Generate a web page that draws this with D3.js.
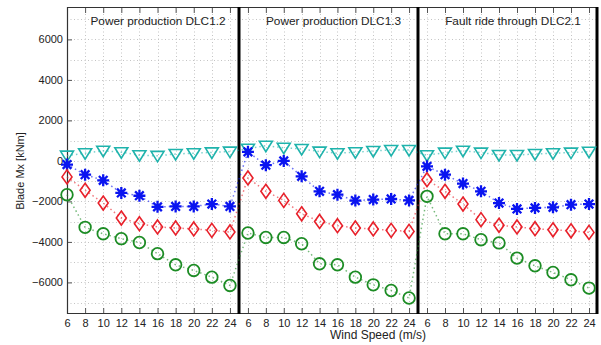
<!DOCTYPE html>
<html>
<head>
<meta charset="utf-8">
<script src="https://cdn.jsdelivr.net/npm/d3@7"></script>
<style>
  body { margin: 0; background: #fff; }
  text { font-family: "Liberation Sans", Arial, Helvetica, sans-serif; fill: #222; }
</style>
</head>
<body>
<div id="chart"></div>
<script>
// wind speeds on the x axis of every panel
const windSpeeds = [6, 8, 10, 12, 14, 16, 18, 20, 22, 24];
const panelTitles = ["Power production DLC1.2", "Power production DLC1.3", "Fault ride through DLC2.1"];
const yTickValues = [-6000, -4000, -2000, 0, 2000, 4000, 6000];

// DLC1.2
const triDLC12 = [260, 380, 500, 430, 280, 250, 340, 380, 420, 460];
const starDLC12 = [-180, -680, -960, -1580, -1720, -2270, -2250, -2250, -2130, -2250];
const diamDLC12 = [-790, -1450, -2080, -2820, -3100, -3260, -3310, -3360, -3430, -3510];
const circDLC12 = [-1670, -3280, -3600, -3840, -4030, -4580, -5130, -5410, -5740, -6150];
// DLC1.3
const triDLC13 = [600, 750, 650, 590, 460, 380, 430, 490, 540, 540];
const starDLC13 = [450, -210, 0, -760, -1500, -1670, -1960, -1910, -1880, -1950];
const diamDLC13 = [-840, -1500, -1950, -2610, -2990, -3200, -3310, -3360, -3430, -3480];
const circDLC13 = [-3560, -3780, -3780, -4090, -5080, -5130, -5740, -6120, -6400, -6770];
// DLC2.1
const triDLC21 = [280, 410, 500, 410, 290, 290, 340, 380, 410, 450];
const starDLC21 = [-270, -680, -1120, -1500, -2080, -2370, -2320, -2290, -2160, -2130];
const diamDLC21 = [-930, -1500, -2130, -2900, -3180, -3260, -3350, -3400, -3450, -3530];
const circDLC21 = [-1750, -3600, -3600, -3890, -4050, -4800, -5180, -5510, -5870, -6280];

const series = [
  { name: "tri", color: "#1fb3ac", data: [triDLC12, triDLC13, triDLC21] },
  { name: "star", color: "#0a14f0", data: [starDLC12, starDLC13, starDLC21] },
  { name: "diam", color: "#e8202a", data: [diamDLC12, diamDLC13, diamDLC21] },
  { name: "circ", color: "#1c8c24", data: [circDLC12, circDLC13, circDLC21] }
];

const W = 601, H = 345;
const yTop = 7, yBottom = 314;
// pixel extent and x domain of each panel
const panels = [
  { x0: 67, x1: 239, lo: 6 },
  { x0: 239, x1: 418, lo: 5 },
  { x0: 418, x1: 598, lo: 5 }
];
panels.forEach(p => { p.x = d3.scaleLinear().domain([p.lo, 25]).range([p.x0, p.x1]); });

const y = d3.scaleLinear().domain([-7560, 7600]).range([yBottom, yTop]);

const svg = d3.select("#chart").append("svg").attr("width", W).attr("height", H);

// grid
const grid = svg.append("g").attr("stroke", "#c4c4c4").attr("stroke-width", 1)
  .attr("stroke-dasharray", "1,2.5");
grid.selectAll("line.h").data(d3.range(-7000, 7001, 1000)).enter().append("line")
  .attr("x1", 67).attr("x2", 598)
  .attr("y1", d => Math.round(y(d)) + 0.5).attr("y2", d => Math.round(y(d)) + 0.5);
panels.forEach(p => {
  grid.append("g").selectAll("line").data(windSpeeds).enter().append("line")
    .attr("x1", d => Math.round(p.x(d)) + 0.5).attr("x2", d => Math.round(p.x(d)) + 0.5)
    .attr("y1", yTop).attr("y2", yBottom);
});

// axes
panels.forEach((p, i) => {
  const gb = svg.append("g").attr("transform", `translate(0,${yBottom})`)
    .call(d3.axisBottom(p.x).tickValues(windSpeeds).tickSize(-6).tickSizeOuter(0).tickPadding(5));
  gb.select(".domain").remove();
  gb.selectAll("text").style("font-size", "11px").attr("fill", "#222");
  gb.selectAll("line").attr("stroke", "#555");

  const gt = svg.append("g").attr("transform", `translate(0,${yTop})`)
    .call(d3.axisTop(p.x).tickValues(windSpeeds).tickSize(-6).tickSizeOuter(0).tickFormat(""));
  gt.select(".domain").remove();
  gt.selectAll("line").attr("stroke", "#555");

  svg.append("text")
    .attr("x", (p.x0 + p.x1) / 2 + 5).attr("y", 25)
    .attr("text-anchor", "middle").style("font-size", "11.8px")
    .text(panelTitles[i]);
});

const gy = svg.append("g").attr("transform", "translate(67,0)")
  .call(d3.axisLeft(y).tickValues(yTickValues).tickFormat(d3.format("d"))
    .tickSize(-5).tickSizeOuter(0).tickPadding(4));
gy.select(".domain").remove();
gy.selectAll("text").style("font-size", "11px").attr("fill", "#222");
gy.selectAll("line").attr("stroke", "#555");

// frame
svg.append("path")
  .attr("d", `M598,${yTop + 0.5}H67.5V${yBottom - 0.5}H598`)
  .attr("fill", "none").attr("stroke", "#333").attr("stroke-width", 1.2);
svg.selectAll("line.sep").data([239, 418, 597]).enter().append("line")
  .attr("x1", d => d).attr("x2", d => d).attr("y1", yTop).attr("y2", yBottom)
  .attr("stroke", "#000").attr("stroke-width", 3);

// axis titles
svg.append("text")
  .attr("transform", "translate(24,171) rotate(-90)")
  .attr("text-anchor", "middle").style("font-size", "11px")
  .text("Blade Mx [kNm]");
svg.append("text")
  .attr("x", 330).attr("y", 339).style("font-size", "12px")
  .text("Wind Speed (m/s)");

// series: dotted line running through all panels, then markers
const line = d3.line();
const markerPath = {
  tri: "M-6.5,-4.5L6.5,-4.5L0,6Z",
  diam: "M0,-7L5,0L0,7L-5,0Z",
  star: "M-6,0L6,0M0,-6L0,6M-4.3,-4.3L4.3,4.3M-4.3,4.3L4.3,-4.3"
};

series.forEach(s => {
  const pts = [];
  panels.forEach((p, i) => {
    s.data[i].forEach((v, j) => pts.push([p.x(windSpeeds[j]), y(v)]));
  });
  svg.append("path")
    .attr("d", line(pts))
    .attr("fill", "none").attr("stroke", s.color).attr("stroke-opacity", 0.6)
    .attr("stroke-width", 1.5).attr("stroke-dasharray", "1.5,3");

  const g = svg.append("g");
  if (s.name === "circ") {
    g.selectAll("circle").data(pts).enter().append("circle")
      .attr("cx", d => d[0]).attr("cy", d => d[1]).attr("r", 5.8)
      .attr("fill", "none").attr("stroke", s.color).attr("stroke-width", 1.8);
  } else {
    g.selectAll("path").data(pts).enter().append("path")
      .attr("transform", d => `translate(${d[0]},${d[1]})`)
      .attr("d", markerPath[s.name])
      .attr("fill", "none").attr("stroke", s.color)
      .attr("stroke-width", s.name === "star" ? 2.3 : 1.6);
  }
});
</script>
</body>
</html>
